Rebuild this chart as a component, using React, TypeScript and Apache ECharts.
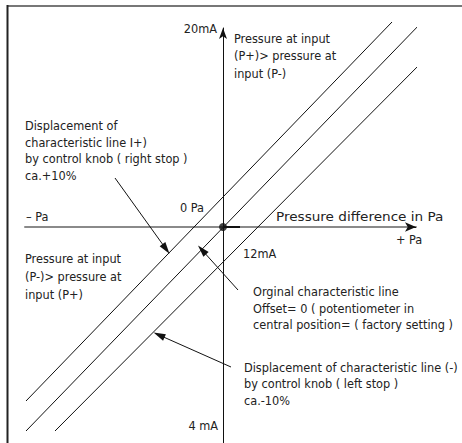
import React, { useEffect, useRef } from "react";
import * as echarts from "echarts";

// Schematic value space (origin = 0 Pa / 12 mA)
const X_RANGE = [-198, 193];
const Y_RANGE = [-216, 199];

// Characteristic lines (schematic units)
const lineOriginal = [[-197, -204], [199, 205]];
const linePlus = [[-197, -174], [169, 205]];
const lineMinus = [[-168, -204], [209, 175]];
const originPoint = [[0, 0]];
const originStub = [[0, 0], [17, 0]];

// Leader arrows [from, to]
const leaders = [
  [[-108, 49], [-57, -22]],
  [[15, -63], [-21, -23]],
  [[8, -140], [-64, -108]],
];

const xArrow = [[190, 0], [193, 0]];

const FF = "'Liberation Sans Narrow', 'DejaVu Sans Condensed', 'Open Sans', sans-serif";
const FS = 12.6;
const TXT = "#222";

function block(x: number, firstCenter: number, lines: string[], lh: number, align = "left", scaleX = 1) {
  return {
    type: "text",
    x,
    y: firstCenter - lh / 2,
    scaleX,
    silent: true,
    style: {
      text: lines.join("\n"),
      fill: TXT,
      fontFamily: FF,
      fontSize: FS,
      lineHeight: lh,
      align,
      verticalAlign: "top",
    },
  };
}

export default function App() {
  const ref = useRef<HTMLDivElement>(null);
  useEffect(() => {
    if (!ref.current) return;
    const chart = echarts.init(ref.current, null, { renderer: "svg" });
    const diag = (data: number[][]) => ({
      type: "line",
      data,
      symbol: "none",
      clip: false,
      silent: true,
      lineStyle: { color: "#111", width: 1 },
      z: 3,
    });
    chart.setOption({
      animation: false,
      backgroundColor: "#fff",
      grid: { left: 25, right: 46, top: 28, bottom: 0, containLabel: false },
      xAxis: {
        type: "value",
        min: X_RANGE[0],
        max: X_RANGE[1],
        splitLine: { show: false },
        axisTick: { show: false },
        axisLabel: { show: false },
        axisLine: { show: true, onZero: true, lineStyle: { color: "#8a8a8a", width: 2 } },
      },
      yAxis: {
        type: "value",
        min: Y_RANGE[0],
        max: Y_RANGE[1],
        splitLine: { show: false },
        axisTick: { show: false },
        axisLabel: { show: false },
        axisLine: {
          show: true,
          onZero: true,
          symbol: ["none", "arrow"],
          symbolSize: [6, 11],
          lineStyle: { color: "#111", width: 1 },
        },
      },
      series: [
        diag(lineOriginal),
        diag(linePlus),
        diag(lineMinus),
        {
          type: "line",
          data: originStub,
          symbol: "none",
          lineStyle: { color: "#111", width: 2 },
          z: 4,
        },
        {
          type: "scatter",
          data: originPoint,
          symbolSize: 8,
          itemStyle: { color: "#111" },
          z: 5,
        },
        {
          type: "scatter",
          data: [],
          markLine: {
            silent: true,
            animation: false,
            label: { show: false },
            symbol: ["none", "triangle"],
            symbolSize: 10,
            lineStyle: { color: "#111", width: 1, type: "solid" },
            data: [
              ...leaders.map(([a, b]) => [{ coord: a }, { coord: b, symbol: "triangle", symbolSize: [7, 12] }]),
              [{ coord: xArrow[0] }, { coord: xArrow[1], symbol: "arrow", symbolSize: [7, 11] }],
            ],
          },
        },
      ],
      graphic: [
        { type: "line", silent: true, shape: { x1: 7, y1: 6, x2: 462, y2: 6 }, style: { stroke: "#777", lineWidth: 2 } },
        { type: "line", silent: true, shape: { x1: 7.5, y1: 5, x2: 7.5, y2: 443 }, style: { stroke: "#222", lineWidth: 2 } },
        block(217, 28, ["20mA"], 16, "right"),
        block(234, 38, ["Pressure at input", "(P+)> pressure at", "input (P-)"], 17.5),
        block(25, 126, ["Displacement of", "characteristic line I+)", "by control knob ( right stop )", "ca.+10%"], 16.4),
        block(180, 207, ["0 Pa"], 16),
        block(26, 216, ["– Pa"], 16),
        block(276, 216, ["Pressure difference in Pa"], 16, "left", 1.2),
        block(396, 239, ["+ Pa"], 16),
        block(243, 253, ["12mA"], 16),
        block(25, 258, ["Pressure at input", "(P-)> pressure at", "input (P+)"], 18),
        block(253, 292, ["Orginal characteristic line", "Offset= 0 ( potentiometer in", "central position= ( factory setting )"], 16.3),
        block(244, 367, ["Displacement of characteristic line (-)", "by control knob ( left stop )", "ca.-10%"], 16.5),
        block(218, 425, ["4 mA"], 16, "right"),
      ],
    });
    return () => chart.dispose();
  }, []);
  return <div ref={ref} style={{ position: "fixed", left: 0, top: 0, width: 462, height: 443 }} />;
}
